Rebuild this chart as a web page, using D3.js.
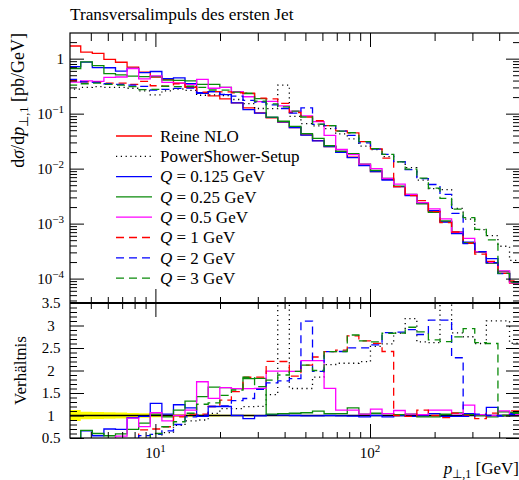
<!DOCTYPE html>
<html><head><meta charset="utf-8">
<script src="https://cdn.jsdelivr.net/npm/d3@7"></script>
<style>
body{margin:0;background:#fff;}
svg text{font-family:"Liberation Serif","Times New Roman",serif;fill:#000;}
</style></head><body>
<svg id="chart" width="519" height="480"></svg>
<script>
// Bin edges of the leading-jet transverse momentum histogram [GeV]
const binEdges = [3.963, 4.488, 5.082, 5.755, 6.517, 7.380, 8.357, 9.464, 10.72, 12.14, 13.74, 15.56, 17.62, 19.96, 22.60, 25.59, 28.98, 32.82, 37.16, 42.08, 47.66, 53.97, 61.11, 69.20, 78.37, 88.74, 100.5, 113.8, 128.9, 145.9, 165.3, 187.1, 211.9, 240.0, 271.7, 307.7, 348.5, 394.6, 446.9, 506.0];

// dsigma/dpT [pb/GeV] per bin
const nlo = [1.70, 1.31, 1.25, 0.975, 0.86, 0.70, 0.57, 0.46, 0.42, 0.36, 0.30, 0.24, 0.21, 0.185, 0.157, 0.127, 0.103, 0.084, 0.070, 0.056, 0.041, 0.0323, 0.0251, 0.0199, 0.0161, 0.0117, 0.0088, 0.0064, 0.0047, 0.0033, 0.00235, 0.00165, 0.00109, 0.00067, 0.00044, 0.00030, 0.000195, 0.000125, 0.0000825];
const nloRelErr = [0.12, 0.085, 0.08, 0.07, 0.065, 0.055, 0.05, 0.04, 0.035, 0.03, 0.025, 0.02, 0.02, 0.018, 0.015, 0.015, 0.012, 0.012, 0.01, 0.01, 0.01, 0.008, 0.008, 0.008, 0.008, 0.008, 0.008, 0.008, 0.008, 0.008, 0.008, 0.008, 0.008, 0.008, 0.008, 0.008, 0.008, 0.008, 0.008];
const powerShower = [0.28, 0.30, 0.31, 0.30, 0.30, 0.29, 0.26, 0.22, 0.26, 0.281, 0.264, 0.216, 0.22, 0.213, 0.181, 0.152, 0.124, 0.123, 0.329, 0.0896, 0.0656, 0.0598, 0.0535, 0.043, 0.0348, 0.0257, 0.0223, 0.0166, 0.0133, 0.0104, 0.0062, 0.00432, 0.00414, 0.0019, 0.00121, 0.00078, 0.000605, 0.000388, 0.000215];
const q0125 = [0.714, 0.865, 0.688, 0.683, 0.593, 0.665, 0.559, 0.584, 0.433, 0.446, 0.351, 0.235, 0.252, 0.222, 0.157, 0.118, 0.102, 0.0857, 0.0707, 0.056, 0.0406, 0.0320, 0.0251, 0.0197, 0.0159, 0.01135, 0.0088, 0.00621, 0.0047, 0.00323, 0.00233, 0.00172, 0.00107, 0.000657, 0.000458, 0.000303, 0.00023, 0.000125, 0.0000866];
const q025 = [0.663, 0.878, 0.75, 0.536, 0.507, 0.483, 0.473, 0.474, 0.407, 0.403, 0.396, 0.341, 0.342, 0.300, 0.251, 0.231, 0.188, 0.0865, 0.0728, 0.0588, 0.0435, 0.0355, 0.0261, 0.0207, 0.0188, 0.01205, 0.00924, 0.00666, 0.00479, 0.0034, 0.00228, 0.0016, 0.00112, 0.00071, 0.000449, 0.0003, 0.000189, 0.000135, 0.0000883];
const q05 = [0.374, 0.393, 0.388, 0.458, 0.464, 0.658, 0.428, 0.488, 0.370, 0.36, 0.336, 0.42, 0.29, 0.30, 0.251, 0.203, 0.165, 0.167, 0.139, 0.111, 0.091, 0.0717, 0.0402, 0.0223, 0.018, 0.01205, 0.01003, 0.00666, 0.00522, 0.0034, 0.0024, 0.00185, 0.00122, 0.000697, 0.000541, 0.000306, 0.000195, 0.000138, 0.0000842];
const q1 = [0.40, 0.38, 0.37, 0.36, 0.36, 0.34, 0.388, 0.322, 0.315, 0.349, 0.309, 0.247, 0.252, 0.248, 0.240, 0.235, 0.191, 0.185, 0.154, 0.105, 0.0869, 0.0743, 0.0607, 0.0488, 0.0446, 0.0311, 0.0229, 0.0155, 0.0047, 0.00323, 0.00263, 0.00165, 0.00104, 0.000704, 0.00044, 0.000279, 0.000205, 0.000125, 0.0000908];
const q2 = [0.42, 0.38, 0.37, 0.35, 0.34, 0.33, 0.314, 0.267, 0.277, 0.288, 0.291, 0.242, 0.252, 0.224, 0.209, 0.175, 0.163, 0.145, 0.124, 0.102, 0.127, 0.064, 0.0607, 0.0482, 0.0403, 0.0293, 0.0226, 0.0182, 0.0134, 0.0096, 0.00658, 0.00515, 0.0034, 0.00153, 0.000431, 0.000309, 0.000195, 0.000123, 0.0000842];
const q3 = [0.33, 0.35, 0.36, 0.34, 0.33, 0.31, 0.274, 0.276, 0.315, 0.31, 0.315, 0.30, 0.269, 0.268, 0.246, 0.235, 0.169, 0.150, 0.133, 0.111, 0.0869, 0.0646, 0.0607, 0.0482, 0.0449, 0.0311, 0.0232, 0.0181, 0.0133, 0.00977, 0.00672, 0.00442, 0.00288, 0.00184, 0.00129, 0.000786, 0.000507, 0.000125, 0.0000866];

// Axis ticks and labels
const xMajorTicks = [10, 100];
const xMinorTicks = [5, 6, 7, 8, 9, 20, 30, 40, 50, 60, 70, 80, 90, 200, 300, 400];
const xTickLabels = [["10", "1"], ["10", "2"]];
const yMainMajorTicks = [1, 1e-1, 1e-2, 1e-3, 1e-4];
const yMainTickLabels = [["1", null], ["10", "\u22121"], ["10", "\u22122"], ["10", "\u22123"], ["10", "\u22124"]];
const yRatioMajorTicks = [0.5, 1, 1.5, 2, 2.5, 3, 3.5];
const yRatioTickLabels = ["0.5", "1", "1.5", "2", "2.5", "3", "3.5"];

const series = [
  {name: "Reine NLO", values: nlo, color: "#ff0000", dash: null, ratio: false},
  {name: "PowerShower-Setup", values: powerShower, color: "#000000", dash: "1.2,3.6", ratio: true},
  {q: "0.125", values: q0125, color: "#0000ff", dash: null, ratio: true},
  {q: "0.25", values: q025, color: "#0a8a0a", dash: null, ratio: true},
  {q: "0.5", values: q05, color: "#ff00ff", dash: null, ratio: true},
  {q: "1", values: q1, color: "#ff0000", dash: "8,5", ratio: true},
  {q: "2", values: q2, color: "#0000ff", dash: "8,5", ratio: true},
  {q: "3", values: q3, color: "#0a8a0a", dash: "8,5", ratio: true}
];

const svg = d3.select("#chart");
const left = 70, right = 520, mainTop = 33, mainBottom = 303, ratioBottom = 438;

const x = d3.scaleLog().domain([4, 500]).range([left, right]);
const yMain = d3.scaleLog().domain([3.6e-5, 2.93]).range([mainBottom, mainTop]);
const yRatio = d3.scaleLinear().domain([0.5, 3.5]).range([ratioBottom, mainBottom]);

const defs = svg.append("defs");
defs.append("clipPath").attr("id", "clipMain").append("rect")
  .attr("x", left).attr("y", mainTop).attr("width", right - left).attr("height", mainBottom - mainTop);
defs.append("clipPath").attr("id", "clipRatio").append("rect")
  .attr("x", left).attr("y", mainBottom).attr("width", right - left).attr("height", ratioBottom - mainBottom);

function steps(vals) {
  const pts = [];
  vals.forEach((v, i) => { pts.push([binEdges[i], v]); pts.push([binEdges[i + 1], v]); });
  return pts;
}

// Main panel histograms
const gMain = svg.append("g").attr("clip-path", "url(#clipMain)");
const lineMain = d3.line().x(d => x(d[0])).y(d => yMain(d[1]));
series.forEach(s => {
  gMain.append("path").attr("d", lineMain(steps(s.values)))
    .attr("fill", "none").attr("stroke", s.color).attr("stroke-width", 1.3)
    .attr("stroke-dasharray", s.dash);
});

// Ratio panel: reference uncertainty band, unit line, ratios
const gRatio = svg.append("g").attr("clip-path", "url(#clipRatio)");
const band = [];
nloRelErr.forEach((e, i) => { band.push([binEdges[i], e]); band.push([binEdges[i + 1], e]); });
gRatio.append("path")
  .attr("d", d3.area().x(d => x(d[0])).y0(d => yRatio(1 - d[1])).y1(d => yRatio(1 + d[1]))(band))
  .attr("fill", "#ffff00");
gRatio.append("line").attr("x1", left).attr("x2", right).attr("y1", yRatio(1)).attr("y2", yRatio(1))
  .attr("stroke", "#000").attr("stroke-width", 1.3);
const lineRatio = d3.line().x(d => x(d[0])).y(d => yRatio(d[1]));
series.filter(s => s.ratio).forEach(s => {
  const r = s.values.map((v, i) => v / nlo[i]);
  gRatio.append("path").attr("d", lineRatio(steps(r)))
    .attr("fill", "none").attr("stroke", s.color).attr("stroke-width", 1.3)
    .attr("stroke-dasharray", s.dash);
});

// Frames
svg.append("rect").attr("x", left).attr("y", mainTop).attr("width", right - left).attr("height", ratioBottom - mainTop)
  .attr("fill", "none").attr("stroke", "#000").attr("stroke-width", 1.2);
svg.append("line").attr("x1", left).attr("x2", right).attr("y1", mainBottom).attr("y2", mainBottom)
  .attr("stroke", "#000").attr("stroke-width", 1.8);

// Tick marks drawn with d3 axes
function tickRow(axisFn, scale, values, size, tx, ty) {
  const g = svg.append("g").attr("transform", `translate(${tx},${ty})`)
    .call(axisFn(scale).tickValues(values).tickSize(size).tickSizeOuter(0).tickFormat(""));
  g.select(".domain").remove();
  g.selectAll("line").attr("stroke", "#000").attr("stroke-width", 1);
}
// x ticks: top of main panel, both sides of the panel divider, bottom of ratio panel
tickRow(d3.axisBottom, x, xMajorTicks, 14, 0, mainTop);
tickRow(d3.axisBottom, x, xMinorTicks, 8, 0, mainTop);
tickRow(d3.axisTop, x, xMajorTicks, 14, 0, mainBottom);
tickRow(d3.axisTop, x, xMinorTicks, 6, 0, mainBottom);
tickRow(d3.axisBottom, x, xMajorTicks, 14, 0, mainBottom);
tickRow(d3.axisBottom, x, xMinorTicks, 6, 0, mainBottom);
tickRow(d3.axisTop, x, xMajorTicks, 14, 0, ratioBottom);
tickRow(d3.axisTop, x, xMinorTicks, 6, 0, ratioBottom);

// main y ticks
const yMainMinor = [];
[-5, -4, -3, -2, -1, 0].forEach(p => { for (let m = 2; m <= 9; m++) { const v = m * Math.pow(10, p); if (v >= 3.6e-5 && v <= 2.93) yMainMinor.push(v); } });
tickRow(d3.axisRight, yMain, yMainMajorTicks, 14, left, 0);
tickRow(d3.axisRight, yMain, yMainMinor, 7, left, 0);
tickRow(d3.axisLeft, yMain, yMainMajorTicks, 14, right, 0);
tickRow(d3.axisLeft, yMain, yMainMinor, 7, right, 0);

// ratio y ticks
const yRatioMinor = d3.range(6, 35).map(k => k / 10).filter(v => Math.abs(v * 2 - Math.round(v * 2)) > 1e-6);
tickRow(d3.axisRight, yRatio, yRatioMajorTicks, 14, left, 0);
tickRow(d3.axisRight, yRatio, yRatioMinor, 7, left, 0);
tickRow(d3.axisLeft, yRatio, yRatioMajorTicks, 14, right, 0);
tickRow(d3.axisLeft, yRatio, yRatioMinor, 7, right, 0);

// Tick labels
function powerLabel(g, px, py, anchor, base, exp) {
  const t = g.append("text").attr("x", px).attr("y", py).attr("text-anchor", anchor).attr("font-size", 15);
  t.append("tspan").text(base);
  if (exp) t.append("tspan").attr("dy", -6).attr("font-size", 11).text(exp);
}
const gLab = svg.append("g");
yMainMajorTicks.forEach((v, i) => {
  powerLabel(gLab, 64, yMain(v) + 5, "end", yMainTickLabels[i][0], yMainTickLabels[i][1]);
});
xMajorTicks.forEach((v, i) => {
  powerLabel(gLab, x(v), 458, "middle", xTickLabels[i][0], xTickLabels[i][1]);
});
yRatioMajorTicks.forEach((v, i) => {
  gLab.append("text").attr("x", 51).attr("y", yRatio(v) + 5).attr("text-anchor", "middle")
    .attr("font-size", 15).text(yRatioTickLabels[i]);
});

// Title and axis titles
svg.append("text").attr("x", 70).attr("y", 20).attr("font-size", 17.3).text("Transversalimpuls des ersten Jet");

const xl = svg.append("text").attr("x", 519).attr("y", 474).attr("text-anchor", "end").attr("font-size", 17);
xl.append("tspan").attr("font-style", "italic").text("p");
xl.append("tspan").attr("dy", 4).attr("font-size", 12).text("\u22a5,1");
xl.append("tspan").attr("dy", -4).text(" [GeV]");

const yl = svg.append("text").attr("transform", "translate(24,33) rotate(-90)").attr("text-anchor", "end").attr("font-size", 18);
yl.append("tspan").text("d");
yl.append("tspan").attr("font-style", "italic").text("\u03c3");
yl.append("tspan").text("/d");
yl.append("tspan").attr("font-style", "italic").text("p");
yl.append("tspan").attr("dy", 4).attr("font-size", 12.5).text("\u22a5,1");
yl.append("tspan").attr("dy", -4).text(" [pb/GeV]");

svg.append("text").attr("transform", `translate(26,${(mainBottom + ratioBottom) / 2}) rotate(-90)`)
  .attr("text-anchor", "middle").attr("font-size", 17).text("Verh\u00e4ltnis");

// Legend
const gLeg = svg.append("g");
series.forEach((s, i) => {
  const ly = 136 + i * 20.3;
  gLeg.append("line").attr("x1", 116).attr("x2", 152).attr("y1", ly).attr("y2", ly)
    .attr("stroke", s.color).attr("stroke-width", 1.3).attr("stroke-dasharray", s.dash);
  const t = gLeg.append("text").attr("x", 160).attr("y", ly + 5.7).attr("font-size", 17);
  if (s.q) {
    t.append("tspan").attr("font-style", "italic").text("Q");
    t.append("tspan").text(" = " + s.q + " GeV");
  } else {
    t.text(s.name);
  }
});
</script>
</body></html>
